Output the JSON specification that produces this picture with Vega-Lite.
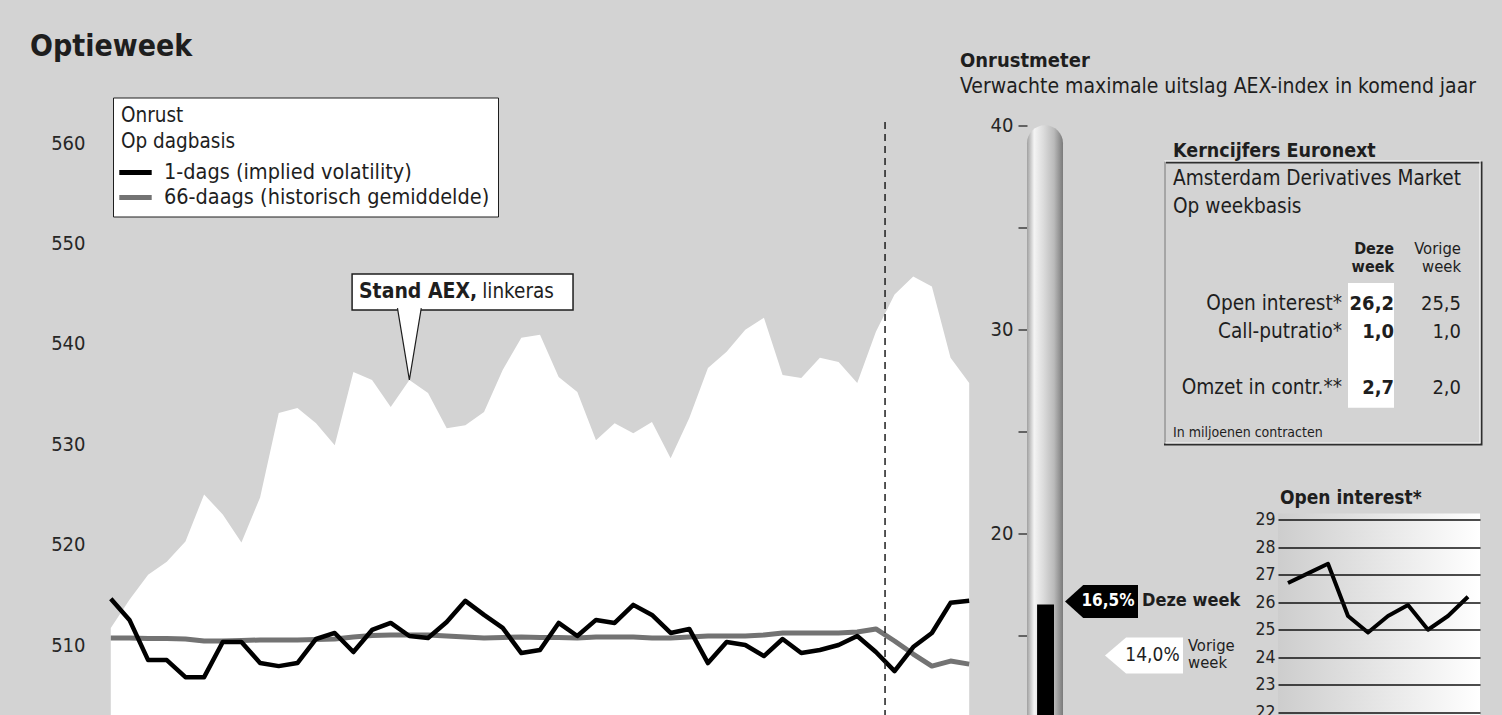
{
  "$schema": "https://vega.github.io/schema/vega-lite/v6.json",
  "background": "#d3d3d3",
  "padding": {"left": 30, "top": 31.5, "right": 20, "bottom": 0},
  "config": {
    "font": "'DejaVu Sans Condensed', Roboto, sans-serif",
    "view": {"stroke": null},
    "axis": {"labelColor": "#262626", "titleColor": "#262626"},
    "text": {"color": "#1e1e1e"}
  },
  "datasets": {
    "dagen": [
      {"dag": 0, "AEX": 511.7, "1-dags": 514.6, "66-daags": 510.7},
      {"dag": 1, "AEX": 514.5, "1-dags": 512.5, "66-daags": 510.7},
      {"dag": 2, "AEX": 517.0, "1-dags": 508.5, "66-daags": 510.65},
      {"dag": 3, "AEX": 518.3, "1-dags": 508.5, "66-daags": 510.65},
      {"dag": 4, "AEX": 520.3, "1-dags": 506.8, "66-daags": 510.6},
      {"dag": 5, "AEX": 525.0, "1-dags": 506.8, "66-daags": 510.4},
      {"dag": 6, "AEX": 523.0, "1-dags": 510.3, "66-daags": 510.4},
      {"dag": 7, "AEX": 520.2, "1-dags": 510.3, "66-daags": 510.45},
      {"dag": 8, "AEX": 524.7, "1-dags": 508.2, "66-daags": 510.5},
      {"dag": 9, "AEX": 533.1, "1-dags": 507.9, "66-daags": 510.5},
      {"dag": 10, "AEX": 533.6, "1-dags": 508.2, "66-daags": 510.5},
      {"dag": 11, "AEX": 532.1, "1-dags": 510.6, "66-daags": 510.55},
      {"dag": 12, "AEX": 529.9, "1-dags": 511.2, "66-daags": 510.6},
      {"dag": 13, "AEX": 537.2, "1-dags": 509.3, "66-daags": 510.8},
      {"dag": 14, "AEX": 536.4, "1-dags": 511.5, "66-daags": 510.95},
      {"dag": 15, "AEX": 533.7, "1-dags": 512.2, "66-daags": 511.0},
      {"dag": 16, "AEX": 536.4, "1-dags": 510.9, "66-daags": 511.0},
      {"dag": 17, "AEX": 535.1, "1-dags": 510.7, "66-daags": 511.0},
      {"dag": 18, "AEX": 531.6, "1-dags": 512.3, "66-daags": 510.9},
      {"dag": 19, "AEX": 531.9, "1-dags": 514.4, "66-daags": 510.8},
      {"dag": 20, "AEX": 533.2, "1-dags": 513.0, "66-daags": 510.7},
      {"dag": 21, "AEX": 537.4, "1-dags": 511.7, "66-daags": 510.75},
      {"dag": 22, "AEX": 540.6, "1-dags": 509.2, "66-daags": 510.8},
      {"dag": 23, "AEX": 540.9, "1-dags": 509.5, "66-daags": 510.75},
      {"dag": 24, "AEX": 536.7, "1-dags": 512.2, "66-daags": 510.75},
      {"dag": 25, "AEX": 535.2, "1-dags": 510.9, "66-daags": 510.7},
      {"dag": 26, "AEX": 530.4, "1-dags": 512.5, "66-daags": 510.8},
      {"dag": 27, "AEX": 532.1, "1-dags": 512.2, "66-daags": 510.8},
      {"dag": 28, "AEX": 531.1, "1-dags": 514.0, "66-daags": 510.8},
      {"dag": 29, "AEX": 532.2, "1-dags": 513.0, "66-daags": 510.7},
      {"dag": 30, "AEX": 528.6, "1-dags": 511.2, "66-daags": 510.7},
      {"dag": 31, "AEX": 532.6, "1-dags": 511.6, "66-daags": 510.8},
      {"dag": 32, "AEX": 537.6, "1-dags": 508.2, "66-daags": 510.9},
      {"dag": 33, "AEX": 539.2, "1-dags": 510.3, "66-daags": 510.9},
      {"dag": 34, "AEX": 541.4, "1-dags": 510.0, "66-daags": 510.9},
      {"dag": 35, "AEX": 542.6, "1-dags": 508.9, "66-daags": 511.0},
      {"dag": 36, "AEX": 536.9, "1-dags": 510.6, "66-daags": 511.2},
      {"dag": 37, "AEX": 536.6, "1-dags": 509.2, "66-daags": 511.2},
      {"dag": 38, "AEX": 538.6, "1-dags": 509.5, "66-daags": 511.2},
      {"dag": 39, "AEX": 538.2, "1-dags": 510.0, "66-daags": 511.2},
      {"dag": 40, "AEX": 536.1, "1-dags": 510.9, "66-daags": 511.3},
      {"dag": 41, "AEX": 541.2, "1-dags": 509.3, "66-daags": 511.6},
      {"dag": 42, "AEX": 544.9, "1-dags": 507.4, "66-daags": 510.4},
      {"dag": 43, "AEX": 546.7, "1-dags": 509.8, "66-daags": 509.1},
      {"dag": 44, "AEX": 545.7, "1-dags": 511.2, "66-daags": 507.9},
      {"dag": 45, "AEX": 538.6, "1-dags": 514.2, "66-daags": 508.4},
      {"dag": 46, "AEX": 536.1, "1-dags": 514.4, "66-daags": 508.1}
    ],
    "onrust": [
      {"week": "Deze week", "v": 16.5, "label": "16,5%"},
      {"week": "Vorige week", "v": 14.0, "label": "14,0%"}
    ],
    "tabel": [
      {"regel": 0, "kolom": "omschrijving", "soort": "titel", "tekst": "Kerncijfers Euronext"},
      {"regel": 1, "kolom": "omschrijving", "soort": "kop", "tekst": "Amsterdam Derivatives Market"},
      {"regel": 2, "kolom": "omschrijving", "soort": "kop", "tekst": "Op weekbasis"},
      {"regel": 4, "kolom": "deze", "soort": "kolomkop", "tekst": "Deze week"},
      {"regel": 4, "kolom": "vorige", "soort": "kolomkop", "tekst": "Vorige week"},
      {"regel": 5, "kolom": "omschrijving", "soort": "cijfer", "tekst": "Open interest*"},
      {"regel": 5, "kolom": "deze", "soort": "cijfer", "tekst": "26,2"},
      {"regel": 5, "kolom": "vorige", "soort": "cijfer", "tekst": "25,5"},
      {"regel": 6, "kolom": "omschrijving", "soort": "cijfer", "tekst": "Call-putratio*"},
      {"regel": 6, "kolom": "deze", "soort": "cijfer", "tekst": "1,0"},
      {"regel": 6, "kolom": "vorige", "soort": "cijfer", "tekst": "1,0"},
      {"regel": 8, "kolom": "omschrijving", "soort": "cijfer", "tekst": "Omzet in contr.**"},
      {"regel": 8, "kolom": "deze", "soort": "cijfer", "tekst": "2,7"},
      {"regel": 8, "kolom": "vorige", "soort": "cijfer", "tekst": "2,0"},
      {"regel": 10, "kolom": "omschrijving", "soort": "voet", "tekst": "In miljoenen contracten"}
    ],
    "oi": [
      {"week": 1, "oi": 26.7},
      {"week": 2, "oi": 27.05},
      {"week": 3, "oi": 27.4},
      {"week": 4, "oi": 25.5},
      {"week": 5, "oi": 24.9},
      {"week": 6, "oi": 25.5},
      {"week": 7, "oi": 25.9},
      {"week": 8, "oi": 25.0},
      {"week": 9, "oi": 25.5},
      {"week": 10, "oi": 26.2}
    ]
  },
  "bounds": "flush",
  "spacing": 55,
  "hconcat": [
    {
      "width": 864,
      "height": 622.5,
      "title": {"text": "Optieweek", "anchor": "start", "frame": "group", "dx": -78, "offset": 31, "fontSize": 30, "fontWeight": "bold", "color": "#1e1e1e"},
      "data": {"name": "dagen"},
      "encoding": {
        "x": {"field": "dag", "type": "quantitative", "scale": {"domain": [-0.15, 46.15], "nice": false, "zero": false}, "axis": null}
      },
      "layer": [
        {
          "mark": {"type": "area", "color": "white"},
          "encoding": {
            "y": {
              "field": "AEX", "type": "quantitative",
              "scale": {"domain": [503.03, 565.03], "nice": false, "zero": false},
              "axis": {"values": [510, 520, 530, 540, 550, 560], "title": null, "ticks": false, "domain": false, "grid": false, "labelPadding": 23, "labelFontSize": 20}
            }
          }
        },
        {
          "transform": [{"fold": ["1-dags", "66-daags"], "as": ["reeks", "waarde"]}, {"filter": "datum.reeks === '66-daags'"}],
          "mark": {"type": "line", "strokeWidth": 5, "strokeJoin": "round"},
          "encoding": {
            "y": {"field": "waarde", "type": "quantitative"},
            "color": {
              "field": "reeks", "type": "nominal",
              "scale": {"domain": ["1-dags", "66-daags"], "range": ["#000000", "#737373"]},
              "legend": {
                "orient": "top-left", "offset": 5, "padding": 8,
                "title": ["Onrust", "Op dagbasis"], "titleFontSize": 20.5, "titleFontWeight": "normal", "titleLineHeight": 26, "titlePadding": 6, "titleColor": "#1e1e1e",
                "labelExpr": "datum.label === '1-dags' ? '1-dags (implied volatility)' : '66-daags (historisch gemiddelde)'",
                "labelFontSize": 21.5, "labelColor": "#1e1e1e", "labelLimit": 0, "labelOffset": 14,
                "symbolType": "M -1.35 0 L 1.35 0", "symbolSize": 576, "symbolStrokeWidth": 5, "rowPadding": 0,
                "fillColor": "white", "strokeColor": "#1e1e1e", "cornerRadius": 0
              }
            }
          }
        },
        {
          "transform": [{"fold": ["1-dags", "66-daags"], "as": ["reeks", "waarde"]}, {"filter": "datum.reeks === '1-dags'"}],
          "mark": {"type": "line", "strokeWidth": 4.5, "strokeJoin": "round"},
          "encoding": {
            "y": {"field": "waarde", "type": "quantitative"},
            "color": {"field": "reeks", "type": "nominal", "scale": {"domain": ["1-dags", "66-daags"], "range": ["#000000", "#737373"]}}
          }
        },
        {
          "transform": [{"filter": "datum.dag === 16"}],
          "mark": {"type": "rule", "strokeDash": [7, 5], "strokeWidth": 1.5, "color": "#1e1e1e"},
          "encoding": {"x": {"datum": 41.49}, "y": {"datum": 562.1}, "y2": {"datum": 503.03}}
        },
        {
          "transform": [{"filter": "datum.dag === 16"}],
          "mark": {"type": "rect", "fill": "white", "stroke": "#1e1e1e", "strokeWidth": 1.5},
          "encoding": {"x": {"datum": 12.93}, "x2": {"datum": 24.77}, "y": {"datum": 546.95}, "y2": {"datum": 543.37}}
        },
        {
          "transform": [{"filter": "datum.dag === 16"}],
          "mark": {"type": "point", "shape": "M 0.34 -2.05 L 0 0 L -0.34 -2.05", "size": 4900, "filled": true, "fill": "white", "stroke": "#1e1e1e", "strokeWidth": 1.2, "opacity": 1},
          "encoding": {"y": {"field": "AEX", "type": "quantitative"}}
        },
        {
          "transform": [{"filter": "datum.dag === 16"}],
          "mark": {"type": "text", "fontWeight": "bold", "fontSize": 21, "align": "left", "baseline": "middle"},
          "encoding": {"x": {"datum": 13.3}, "y": {"datum": 545.15}, "text": {"value": "Stand AEX,"}}
        },
        {
          "transform": [{"filter": "datum.dag === 16"}],
          "mark": {"type": "text", "fontSize": 20.5, "align": "left", "baseline": "middle"},
          "encoding": {"x": {"datum": 19.9}, "y": {"datum": 545.15}, "text": {"value": "linkeras"}}
        }
      ]
    },
    {
      "bounds": "flush",
      "spacing": 102,
      "hconcat": [
        {
          "width": 36,
          "height": 622.5,
          "title": {
            "text": "Onrustmeter", "subtitle": "Verwachte maximale uitslag AEX-index in komend jaar",
            "anchor": "start", "frame": "group", "dx": -67, "offset": -4,
            "fontSize": 20, "fontWeight": "bold", "color": "#1e1e1e",
            "subtitleFontSize": 21, "subtitleColor": "#1e1e1e", "subtitlePadding": 5
          },
          "data": {"name": "onrust"},
          "layer": [
            {
              "transform": [{"filter": "datum.week === 'Deze week'"}],
              "mark": {
                "type": "rect", "cornerRadiusTopLeft": 18, "cornerRadiusTopRight": 18,
                "fill": {"gradient": "linear", "x1": 0, "y1": 0, "x2": 1, "y2": 0, "stops": [
                  {"offset": 0, "color": "#a0a0a0"}, {"offset": 0.2, "color": "#f4f4f4"}, {"offset": 0.45, "color": "#dcdcdc"},
                  {"offset": 0.75, "color": "#bababa"}, {"offset": 0.88, "color": "#999999"}, {"offset": 1, "color": "#7a7a7a"}]}
              },
              "encoding": {
                "x": {"datum": 0, "type": "quantitative", "scale": {"domain": [0, 1], "nice": false, "zero": false}, "axis": null},
                "x2": {"datum": 1},
                "y": {"datum": 40, "type": "quantitative"},
                "y2": {"datum": 11.08}
              }
            },
            {
              "transform": [{"filter": "datum.week === 'Deze week'"}],
              "mark": {"type": "rect", "color": "black"},
              "encoding": {
                "x": {"datum": 0.28, "type": "quantitative"},
                "x2": {"datum": 0.75},
                "y": {
                  "field": "v", "type": "quantitative",
                  "scale": {"domain": [11.08, 41.6], "nice": false, "zero": false},
                  "axis": {"values": [15, 20, 25, 30, 35, 40], "labelExpr": "datum.value % 10 === 0 ? datum.label : ''", "title": null, "domain": false, "grid": false, "tickSize": 9, "tickWidth": 1.3, "tickColor": "#262626", "labelPadding": 5, "labelFontSize": 20}
                },
                "y2": {"datum": 11.08}
              }
            },
            {
              "transform": [{"filter": "datum.week === 'Deze week'"}],
              "mark": {"type": "point", "shape": "M -1 0 L -0.5 -0.45 L 1 -0.45 L 1 0.45 L -0.5 0.45 Z", "size": 5329, "filled": true, "color": "black", "opacity": 1, "xOffset": 38.5, "yOffset": -3},
              "encoding": {"x": {"datum": 1, "type": "quantitative"}, "y": {"field": "v", "type": "quantitative"}}
            },
            {
              "transform": [{"filter": "datum.week === 'Deze week'"}],
              "mark": {"type": "text", "color": "white", "fontWeight": "bold", "fontSize": 17, "align": "center", "baseline": "middle", "dx": 45, "dy": -3},
              "encoding": {"x": {"datum": 1, "type": "quantitative"}, "y": {"field": "v", "type": "quantitative"}, "text": {"field": "label"}}
            },
            {
              "transform": [{"filter": "datum.week === 'Deze week'"}],
              "mark": {"type": "text", "fontWeight": "bold", "fontSize": 18, "align": "left", "baseline": "middle", "dx": 79, "dy": -3},
              "encoding": {"x": {"datum": 1, "type": "quantitative"}, "y": {"field": "v", "type": "quantitative"}, "text": {"field": "week"}}
            },
            {
              "transform": [{"filter": "datum.week === 'Vorige week'"}],
              "mark": {"type": "point", "shape": "M -1 0 L -0.46 -0.46 L 1 -0.46 L 1 0.46 L -0.46 0.46 Z", "size": 6084, "filled": true, "color": "white", "opacity": 1, "xOffset": 81},
              "encoding": {"x": {"datum": 1, "type": "quantitative"}, "y": {"field": "v", "type": "quantitative"}}
            },
            {
              "transform": [{"filter": "datum.week === 'Vorige week'"}],
              "mark": {"type": "text", "fontSize": 19, "align": "center", "baseline": "middle", "dx": 89.5},
              "encoding": {"x": {"datum": 1, "type": "quantitative"}, "y": {"field": "v", "type": "quantitative"}, "text": {"field": "label"}}
            },
            {
              "transform": [{"filter": "datum.week === 'Vorige week'"}],
              "mark": {"type": "text", "fontSize": 16.5, "lineBreak": " ", "lineHeight": 17, "align": "left", "baseline": "middle", "dx": 125, "dy": -9},
              "encoding": {"x": {"datum": 1, "type": "quantitative"}, "y": {"field": "v", "type": "quantitative"}, "text": {"field": "week"}}
            }
          ]
        },
        {
          "bounds": "flush",
          "spacing": 68,
          "vconcat": [
            {
              "width": 315,
              "height": 352.5,
              "data": {"name": "tabel"},
              "encoding": {
                "x": {"field": "kolom", "type": "nominal", "scale": {"type": "point", "domain": ["omschrijving", "deze", "vorige"], "range": [177, 281], "padding": 0}, "axis": null},
                "y": {"field": "regel", "type": "quantitative", "scale": {"domain": [-2.304, 10.286], "reverse": true, "nice": false, "zero": false}, "axis": null}
              },
              "layer": [
                {
                  "transform": [{"filter": "datum.regel === 0"}],
                  "mark": {"type": "rect", "fillOpacity": 0, "stroke": "#2e2e2e", "strokeWidth": 2, "xOffset": 1.5, "x2Offset": 1.5, "yOffset": 1.5, "y2Offset": 1.5},
                  "encoding": {"x": null, "y": {"datum": 0.143}, "y2": {"datum": 10.214}}
                },
                {
                  "transform": [{"filter": "datum.regel === 0"}],
                  "mark": {"type": "rect", "fillOpacity": 0, "stroke": "#f6f6f6", "strokeWidth": 1.2},
                  "encoding": {"x": null, "y": {"datum": 0.143}, "y2": {"datum": 10.214}}
                },
                {
                  "transform": [{"filter": "datum.regel === 0"}],
                  "mark": {"type": "bar", "color": "white", "width": 46, "xOffset": -23},
                  "encoding": {"x": {"datum": "deze", "type": "nominal"}, "y": {"datum": 4.5}, "y2": {"datum": 8.96}}
                },
                {
                  "transform": [{"filter": "datum.soort === 'titel'"}],
                  "mark": {"type": "text", "fontWeight": "bold", "fontSize": 19.5, "align": "left", "baseline": "alphabetic", "dx": -169},
                  "encoding": {"text": {"field": "tekst"}}
                },
                {
                  "transform": [{"filter": "datum.soort === 'kop'"}],
                  "mark": {"type": "text", "fontSize": 20.6, "align": "left", "baseline": "alphabetic", "dx": -169},
                  "encoding": {"text": {"field": "tekst"}}
                },
                {
                  "transform": [{"filter": "datum.soort === 'voet'"}],
                  "mark": {"type": "text", "fontSize": 14, "align": "left", "baseline": "alphabetic", "dx": -169},
                  "encoding": {"text": {"field": "tekst"}}
                },
                {
                  "transform": [{"filter": "datum.soort === 'kolomkop' && datum.kolom === 'deze'"}],
                  "mark": {"type": "text", "fontWeight": "bold", "fontSize": 16, "lineBreak": " ", "lineHeight": 18, "align": "right", "baseline": "alphabetic", "dy": -15},
                  "encoding": {"text": {"field": "tekst"}}
                },
                {
                  "transform": [{"filter": "datum.soort === 'kolomkop' && datum.kolom === 'vorige'"}],
                  "mark": {"type": "text", "fontSize": 16.5, "lineBreak": " ", "lineHeight": 18, "align": "right", "baseline": "alphabetic", "dy": -15, "dx": 15},
                  "encoding": {"text": {"field": "tekst"}}
                },
                {
                  "transform": [{"filter": "datum.soort === 'cijfer' && datum.kolom === 'omschrijving'"}],
                  "mark": {"type": "text", "fontSize": 20.6, "align": "right", "baseline": "alphabetic", "dy": 13},
                  "encoding": {"text": {"field": "tekst"}}
                },
                {
                  "transform": [{"filter": "datum.soort === 'cijfer' && datum.kolom === 'deze'"}],
                  "mark": {"type": "text", "fontWeight": "bold", "fontSize": 20, "align": "right", "baseline": "alphabetic", "dy": 13},
                  "encoding": {"text": {"field": "tekst"}}
                },
                {
                  "transform": [{"filter": "datum.soort === 'cijfer' && datum.kolom === 'vorige'"}],
                  "mark": {"type": "text", "fontSize": 20, "align": "right", "baseline": "alphabetic", "dy": 13, "dx": 15},
                  "encoding": {"text": {"field": "tekst"}}
                }
              ]
            },
            {
              "width": 315,
              "height": 202,
              "title": {"text": "Open interest*", "anchor": "start", "frame": "group", "dx": 115, "offset": 3, "fontSize": 19, "fontWeight": "bold", "color": "#1e1e1e"},
              "data": {"name": "oi"},
              "encoding": {
                "x": {"field": "week", "type": "quantitative", "scale": {"domain": [0.5, 10.6], "range": [113, 315], "nice": false, "zero": false}, "axis": null},
                "y": {
                  "field": "oi", "type": "quantitative",
                  "scale": {"domain": [21.88, 29.23], "nice": false, "zero": false},
                  "axis": {"values": [22, 23, 24, 25, 26, 27, 28, 29], "title": null, "offset": -113, "ticks": false, "domain": false, "grid": true, "gridColor": "#111111", "gridWidth": 1.6, "gridOpacity": 1, "labelPadding": 3, "labelFontSize": 17.5, "zindex": 1}
                }
              },
              "layer": [
                {
                  "transform": [{"filter": "datum.week === 1"}],
                  "mark": {"type": "rect", "fill": {"gradient": "linear", "x1": 0, "y1": 0, "x2": 1, "y2": 0, "stops": [{"offset": 0, "color": "#cdcdcd"}, {"offset": 1, "color": "#ffffff"}]}},
                  "encoding": {"x": {"datum": 0.5}, "x2": {"datum": 10.6}, "y": {"datum": 21.88}, "y2": {"datum": 29.23}}
                },
                {
                  "mark": {"type": "line", "color": "black", "strokeWidth": 4, "strokeJoin": "round"}
                }
              ]
            }
          ]
        }
      ]
    }
  ]
}
